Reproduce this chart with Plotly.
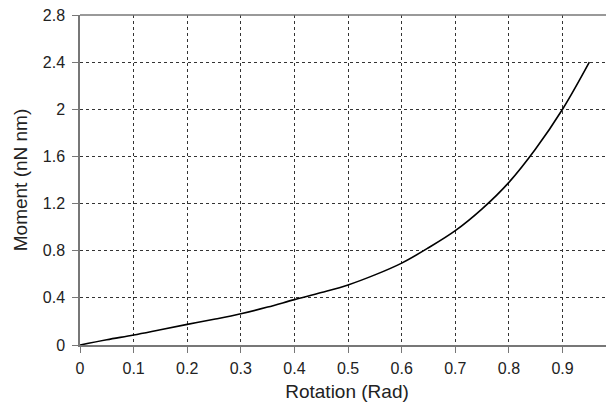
import plotly.graph_objects as go

rotation = [0, 0.05, 0.1, 0.15, 0.2, 0.25, 0.3, 0.35, 0.4, 0.45, 0.5, 0.55,
            0.6, 0.65, 0.7, 0.75, 0.8, 0.85, 0.9, 0.95]
moment = [0, 0.045, 0.085, 0.13, 0.175, 0.218, 0.265, 0.322, 0.385, 0.445,
          0.51, 0.595, 0.695, 0.825, 0.97, 1.155, 1.38, 1.665, 2.0, 2.4]

x_ticks = [0, 0.1, 0.2, 0.3, 0.4, 0.5, 0.6, 0.7, 0.8, 0.9]
x_labels = ["0", "0.1", "0.2", "0.3", "0.4", "0.5", "0.6", "0.7", "0.8", "0.9"]
y_ticks = [0, 0.4, 0.8, 1.2, 1.6, 2.0, 2.4, 2.8]
y_labels = ["0", "0.4", "0.8", "1.2", "1.6", "2", "2.4", "2.8"]

fig = go.Figure()
fig.add_trace(go.Scatter(x=rotation, y=moment, mode="lines",
                         line=dict(color="black", width=1.6, shape="spline", smoothing=1.0),
                         showlegend=False))

font = dict(family="Liberation Sans, Arial, sans-serif", color="#222222")

# page body has an 8px margin, so the figure is sized/offset to compensate
fig.update_layout(
    width=606, height=404,
    margin=dict(l=72, r=0, t=7, b=67),
    paper_bgcolor="white", plot_bgcolor="white",
    font=font,
    xaxis=dict(range=[0, 0.996], tickvals=x_ticks, ticktext=x_labels,
               showgrid=True, gridcolor="#333333", griddash="dot", gridwidth=1,
               showline=True, linecolor="#777777", linewidth=1.5,
               ticks="outside", ticklen=6, tickcolor="#777777",
               ticklabelstandoff=2,
               tickfont=dict(size=16), zeroline=False, automargin=False,
               title=dict(text="Rotation (Rad)", font=dict(size=19), standoff=9)),
    yaxis=dict(range=[0, 2.8], tickvals=y_ticks, ticktext=y_labels,
               showgrid=True, gridcolor="#333333", griddash="dot", gridwidth=1,
               showline=True, linecolor="#777777", linewidth=1.5,
               ticks="outside", ticklen=6, tickcolor="#777777",
               ticklabelstandoff=4, ticklabeloverflow="allow",
               tickfont=dict(size=16), zeroline=False, automargin=False,
               title=dict(text="Moment (nN nm)", font=dict(size=19), standoff=10)),
    shapes=[dict(type="line", xref="paper", yref="paper", x0=0, x1=1, y0=1, y1=1,
                 line=dict(color="#777777", width=1.5))],
)

fig.write_html("out.html")
